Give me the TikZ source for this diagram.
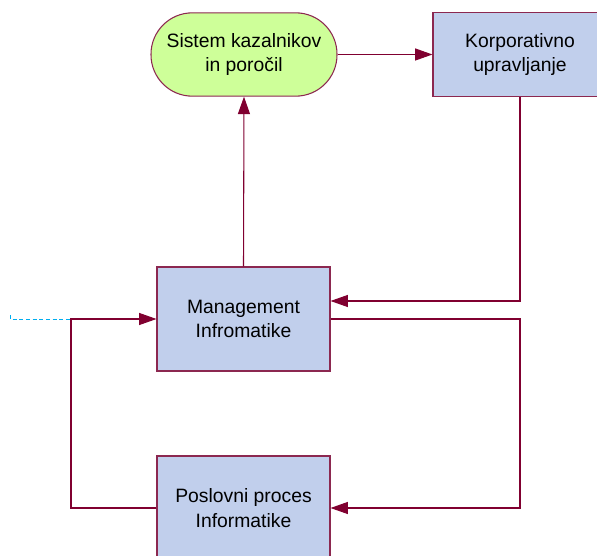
\documentclass[tikz,border=0pt]{standalone}
\usepackage{fontspec}
\setmainfont{Liberation Sans}
\usetikzlibrary{arrows.meta}
\definecolor{lnc}{RGB}{128,0,48}
\definecolor{bdc}{RGB}{140,40,80}
\definecolor{bfill}{RGB}{193,207,236}
\definecolor{gfill}{RGB}{206,255,153}
\tikzset{
  px/.style={x=0.75pt,y=-0.75pt},
  box/.style={draw=bdc,line width=0.8pt,fill=bfill,align=center,inner sep=0pt,
    font=\fontsize{14.5}{18.5}\selectfont},
  term/.style={box,fill=gfill,rounded corners=31pt},
  arr/.style={draw=lnc,line width=0.8pt,-{Triangle[length=13pt,width=9pt]}},
  ln/.style={draw=lnc,line width=0.8pt},
}
\begin{document}
\begin{tikzpicture}[px]
\useasboundingbox (0,0) rectangle (597,556);
\node[term,minimum width=139.5pt,minimum height=62.5pt] (sis) at (244,54.5) {Sistem kazalnikov\\in poročil};
\node[box,minimum width=130.5pt,minimum height=62.5pt] (kor) at (520,54.5) {Korporativno\\upravljanje};
\node[box,minimum width=129.75pt,minimum height=78pt] (mgm) at (243.5,319) {Management\\Infromatike};
\node[box,minimum width=129.75pt,minimum height=78pt] (pos) at (243.5,508) {Poslovni proces\\Informatike};
\coordinate (r1) at (520,301);
\coordinate (r2) at (520,508);
\coordinate (l1) at (71,508);
\coordinate (l2) at (71,319);
\coordinate (c0) at (10,315);
\coordinate (c1) at (10,319);
\draw[arr] (sis.east) -- (kor.west);
\draw[arr] (mgm.north) -- (sis.south);
\draw[arr] (kor.south) -- (r1) -- (mgm.east |- r1);
\draw[arr] (mgm.east) -| (r2) -- (pos.east);
\draw[arr] (pos.west) -- (l1) -- (l2) -- (mgm.west);
\draw[cyan,line width=0.6pt,dash pattern=on 3pt off 2pt] (c0) -- (c1) -- (l2);
\end{tikzpicture}
\end{document}
